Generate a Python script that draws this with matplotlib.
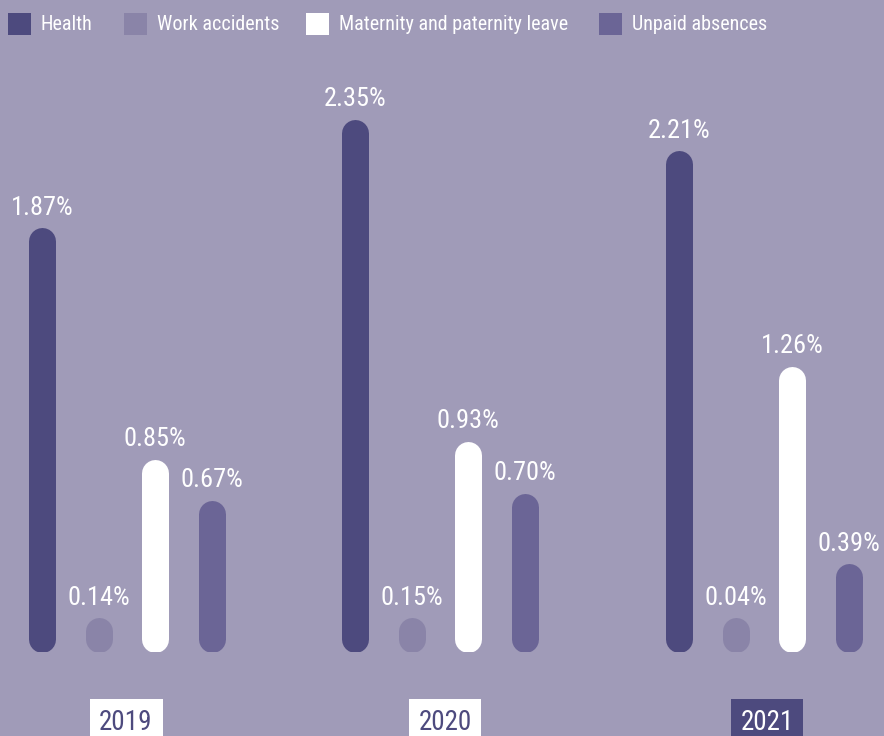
import matplotlib
matplotlib.use("Agg")
import matplotlib.pyplot as plt
from matplotlib.patches import Rectangle
from matplotlib import font_manager as fm

years = ["2019", "2020", "2021"]
categories = ["Health", "Work accidents", "Maternity and paternity leave", "Unpaid absences"]
health = [1.87, 2.35, 2.21]
work_accidents = [0.14, 0.15, 0.04]
maternity = [0.85, 0.93, 1.26]
unpaid = [0.67, 0.70, 0.39]
series = [health, work_accidents, maternity, unpaid]

colors = ["#4d4a7e", "#8a84a8", "#ffffff", "#6b6596"]
bg = "#a09bb8"

names = {f.name for f in fm.fontManager.ttflist}
fam = [f for f in ["Roboto Condensed", "Liberation Sans Narrow", "Liberation Sans"] if f in names] + ["DejaVu Sans"]
plt.rcParams["font.family"] = fam

W, H, DPI = 884, 736, 100
fig = plt.figure(figsize=(W / DPI, H / DPI), dpi=DPI, facecolor=bg)

base_px = 652          # baseline pixel from top
top_px = 17
ymax = 2.8
ax = fig.add_axes([0, (H - base_px) / H, 1, (base_px - top_px) / H])
ax.set_facecolor(bg)
ax.axis("off")
ax.set_xlim(0, W)
ax.set_ylim(0, ymax)

group_centers_px = [127, 440, 764]
bar_step_px = 56.5
label_centers_px = [126, 445, 767]

px_per_unit = (base_px - top_px) / ymax
bar_w_px = 27
r = (bar_w_px / 2) / px_per_unit
lw_pt = bar_w_px * 72 / DPI
min_val = 0.15

for j, (vals, c) in enumerate(zip(series, colors)):
    for i, v in enumerate(vals):
        x = group_centers_px[i] + (j - 1.5) * bar_step_px
        vis = max(v, min_val)
        ax.plot([x, x], [r, vis - r], color=c, lw=lw_pt, solid_capstyle="round")
        ax.text(x, vis + 13 / px_per_unit, f"{v:.2f}%", ha="center", va="baseline",
                fontsize=19, color="white")

# year labels
for i, y in enumerate(years):
    last = i == len(years) - 1
    fc = colors[0] if last else "white"
    tc = "white" if last else colors[0]
    fig.text(label_centers_px[i] / W, 6 / H, y, ha="center", va="baseline", fontsize=19.5, color=tc,
             bbox=dict(boxstyle="square,pad=0.36", fc=fc, ec="none"))

# legend
leg_x = [8, 124, 306, 599]
for name, c, lx in zip(categories, colors, leg_x):
    fig.patches.append(Rectangle((lx / W, 1 - 35 / H), 23 / W, 22 / H,
                                 transform=fig.transFigure, fc=c, ec="none"))
    fig.text((lx + 33) / W, 1 - 24 / H, name, ha="left", va="center",
             fontsize=14.5, color="white")

fig.savefig("out.png", dpi=DPI, facecolor=bg)
